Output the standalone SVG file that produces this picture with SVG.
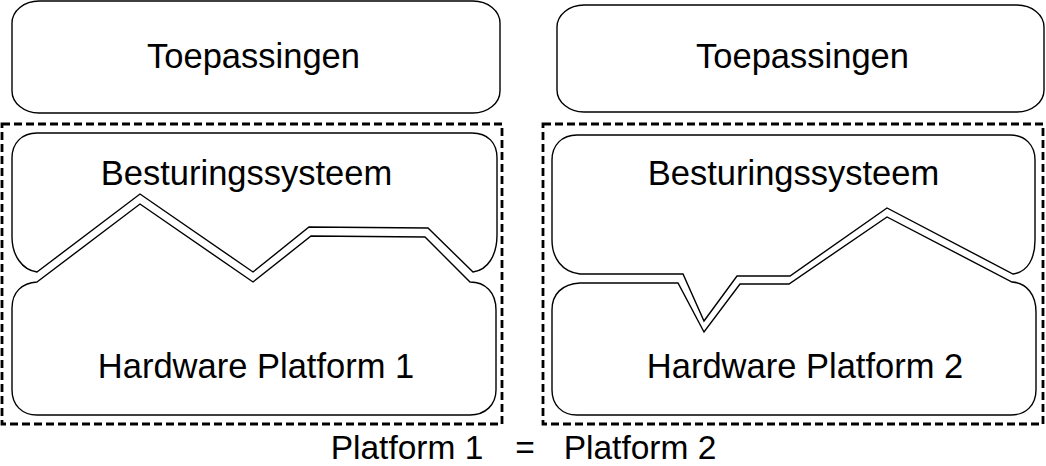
<svg xmlns="http://www.w3.org/2000/svg" width="1046" height="466" viewBox="0 0 1046 466">
<style>
.box{fill:#fff;stroke:#000;stroke-width:1.4}
.dash{fill:none;stroke:#000;stroke-width:2.8;stroke-dasharray:8 4}
text{font-family:"Liberation Sans",Arial,sans-serif;font-size:34.5px;fill:#000;text-anchor:middle}
.cap{font-size:33.5px}
</style>
<rect width="1046" height="466" fill="#fff"/>
<g id="platform1-frame"><rect class="dash" x="2" y="124" width="500" height="300"/></g>
<g id="platform2-frame"><rect class="dash" x="543" y="124" width="500" height="300"/></g>
<g id="apps1">
<rect class="box" x="12" y="1" width="488" height="112" rx="27" ry="22"/>
<text x="253.5" y="68">Toepassingen</text>
</g>
<g id="apps2">
<rect class="box" x="557" y="5" width="487" height="107" rx="27" ry="22"/>
<text x="802.5" y="68">Toepassingen</text>
</g>
<g id="os1">
<path class="box" d="M37,272 L140,194 L253,272 L309,227 L428,228 L473,272 C488,270 497,255 497,235 L497,158 C497,143 488,133 472,133 L37,133 C22,133 12,143 12,158 L12,237 C12,255 22,270 37,272 Z"/>
<text x="246.5" y="185">Besturingssysteem</text>
</g>
<g id="hw1">
<path class="box" d="M37,282 L140,204 L253,282 L311,236 L425,237 L470,282 C485,282 496,292 496,310 L496,390 C496,405 485,415 470,415 L37,415 C22,415 12,405 12,390 L12,308 C12,292 22,283 37,282 Z"/>
<text x="256" y="378">Hardware Platform 1</text>
</g>
<g id="os2">
<path class="box" d="M580,274 L683,274 L704,321 L737,276 L790,276 L887,208 L1013,274 C1028,272 1035,258 1035,240 L1035,160 C1035,145 1025,135 1010,135 L577,135 C562,135 552,145 552,160 L552,240 C552,258 562,272 580,274 Z"/>
<text x="793.5" y="185">Besturingssysteem</text>
</g>
<g id="hw2">
<path class="box" d="M580,283 L678,283 L704,332 L740,284 L789,284 L887,217 L1012,282 C1027,283 1036,295 1036,312 L1036,390 C1036,405 1026,415 1011,415 L577,415 C562,415 552,405 552,390 L552,310 C552,294 562,284 580,283 Z"/>
<text x="805" y="378">Hardware Platform 2</text>
</g>
<g id="connectors"></g>
<g id="caption">
<text class="cap" x="407" y="459">Platform 1</text>
<text class="cap" x="525" y="459">=</text>
<text class="cap" x="640" y="459">Platform 2</text>
</g>
</svg>
